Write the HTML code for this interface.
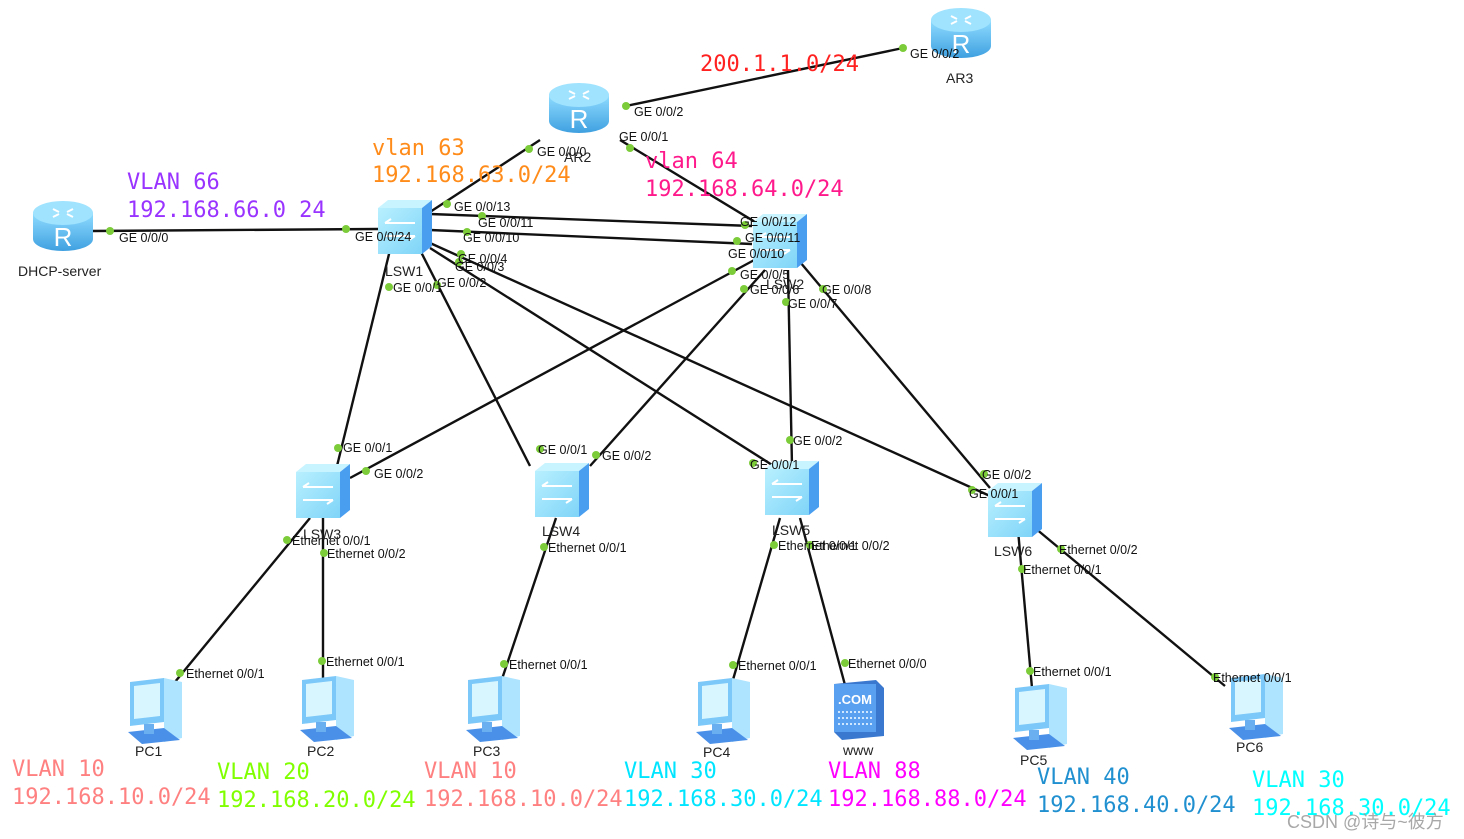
<!DOCTYPE html>
<html><head><meta charset="utf-8"><style>
html,body{margin:0;padding:0;background:#fff;width:1464px;height:839px;overflow:hidden}
svg{display:block}
.p{font-family:"Liberation Sans",sans-serif;font-size:12.5px;fill:#111}
.n{font-family:"Liberation Sans",sans-serif;font-size:14px;fill:#222}
.m{font-family:"DejaVu Sans Mono","Liberation Mono",monospace;font-size:22px}
line{stroke:#111;stroke-width:2.4}
.d{fill:#7ccc3a}
</style></head><body>
<svg width="1464" height="839" viewBox="0 0 1464 839">
<defs>
<linearGradient id="rg" x1="0" x2="0" y1="0" y2="1"><stop offset="0" stop-color="#8fdcff"/><stop offset="1" stop-color="#3fa0e0"/></linearGradient>
<linearGradient id="sg" x1="0" x2="1" y1="0" y2="1"><stop offset="0" stop-color="#b8f0ff"/><stop offset="1" stop-color="#7fd4f8"/></linearGradient>
<g id="rt">
<path d="M-30,-14 L-30,12 A30,12 0 0 0 30,12 L30,-14 Z" fill="url(#rg)"/>
<ellipse cx="0" cy="-14" rx="30" ry="12" fill="#9fe3ff"/>
<path d="M-10,-18 l6,3 M10,-18 l-6,3 M-10,-10 l6,-3 M10,-10 l-6,-3" stroke="#fff" stroke-width="2"/>
<text x="0" y="19" text-anchor="middle" font-family="Liberation Sans,sans-serif" font-size="26" fill="#fff">R</text>
</g>
<g id="sw">
<path d="M-27,-20 L-17,-28 L27,-28 L17,-20 Z" fill="#c8f4ff"/>
<rect x="-27" y="-20" width="44" height="46" fill="url(#sg)"/>
<path d="M17,-20 L27,-28 L27,18 L17,26 Z" fill="#4a9ef0"/>
<path d="M-20,-5 h30 M-20,-5 l6,-4 M-20,8 h30 M10,8 l-6,4" stroke="#fff" stroke-width="2" fill="none"/>
</g>
<g id="pc">
<path d="M-20,-28 L14,-32 L14,12 L-20,16 Z" fill="#7cc8f8"/>
<path d="M-16,-24 L10,-27 L10,6 L-16,9 Z" fill="#d8f6ff"/>
<path d="M14,-32 L32,-28 L32,28 L14,32 Z" fill="#aee4ff"/>
<path d="M-22,22 L14,18 L30,30 L-8,34 Z" fill="#4a90e8"/>
<rect x="-6" y="14" width="10" height="10" fill="#6ab0f0"/>
</g>
</defs>

<line x1="903" y1="48" x2="626" y2="106"/>
<line x1="540" y1="140" x2="430" y2="212"/>
<line x1="620" y1="140" x2="765" y2="228"/>
<line x1="92" y1="231" x2="378" y2="229"/>
<line x1="430" y1="214" x2="752" y2="226"/>
<line x1="430" y1="230" x2="752" y2="244"/>
<line x1="390" y1="250" x2="337" y2="466"/>
<line x1="420" y1="250" x2="530" y2="466"/>
<line x1="430" y1="248" x2="780" y2="470"/>
<line x1="430" y1="243" x2="990" y2="496"/>
<line x1="758" y1="258" x2="350" y2="478"/>
<line x1="765" y1="270" x2="590" y2="466"/>
<line x1="788" y1="270" x2="792" y2="466"/>
<line x1="800" y1="262" x2="990" y2="488"/>
<line x1="310" y1="518" x2="170" y2="688"/>
<line x1="323" y1="518" x2="323" y2="685"/>
<line x1="556" y1="518" x2="500" y2="685"/>
<line x1="780" y1="518" x2="730" y2="690"/>
<line x1="800" y1="518" x2="845" y2="685"/>
<line x1="1018" y1="530" x2="1032" y2="688"/>
<line x1="1035" y1="528" x2="1225" y2="686"/>

<use href="#rt" x="961" y="34"/>
<use href="#rt" x="579" y="109"/>
<use href="#rt" x="63" y="227"/>
<use href="#sw" x="405" y="228"/>
<use href="#sw" x="780" y="242"/>
<use href="#sw" x="323" y="492"/>
<use href="#sw" x="562" y="491"/>
<use href="#sw" x="792" y="489"/>
<use href="#sw" x="1015" y="511"/>
<use href="#pc" x="150" y="710"/>
<use href="#pc" x="322" y="708"/>
<use href="#pc" x="488" y="708"/>
<use href="#pc" x="718" y="710"/>
<use href="#pc" x="1035" y="716"/>
<use href="#pc" x="1251" y="706"/>
<g>
<path d="M834,684 L876,680 L884,688 L884,736 L842,740 L834,732 Z" fill="#3a78d0"/>
<rect x="834" y="684" width="42" height="48" fill="#5aa0f0"/>
<text x="855" y="704" text-anchor="middle" font-family="Liberation Sans,sans-serif" font-size="13" font-weight="bold" fill="#fff">.COM</text>
<path d="M838,712 h34 M838,718 h34 M838,724 h34" stroke="#cfe8ff" stroke-width="2" stroke-dasharray="2 2"/>
</g>

<g class="d">
<circle cx="903" cy="48" r="4"/><circle cx="626" cy="106" r="4"/><circle cx="630" cy="148" r="4"/><circle cx="529" cy="149" r="4"/>
<circle cx="447" cy="204" r="4"/><circle cx="110" cy="231" r="4"/><circle cx="346" cy="229" r="4"/>
<circle cx="482" cy="216" r="4"/><circle cx="467" cy="232" r="4"/><circle cx="461" cy="254" r="4"/><circle cx="459" cy="262" r="4"/>
<circle cx="389" cy="287" r="4"/><circle cx="437" cy="285" r="4"/>
<circle cx="745" cy="225" r="4"/><circle cx="737" cy="241" r="4"/><circle cx="732" cy="271" r="4"/><circle cx="744" cy="289" r="4"/>
<circle cx="786" cy="302" r="4"/><circle cx="823" cy="289" r="4"/>
<circle cx="338" cy="448" r="4"/><circle cx="366" cy="471" r="4"/><circle cx="540" cy="449" r="4"/><circle cx="596" cy="455" r="4"/>
<circle cx="790" cy="440" r="4"/><circle cx="753" cy="463" r="4"/><circle cx="984" cy="474" r="4"/><circle cx="972" cy="490" r="4"/>
<circle cx="287" cy="540" r="4"/><circle cx="324" cy="553" r="4"/><circle cx="544" cy="547" r="4"/><circle cx="774" cy="545" r="4"/><circle cx="810" cy="545" r="4"/>
<circle cx="1061" cy="549" r="4"/><circle cx="1022" cy="569" r="4"/>
<circle cx="180" cy="673" r="4"/><circle cx="322" cy="661" r="4"/><circle cx="504" cy="664" r="4"/><circle cx="733" cy="665" r="4"/><circle cx="845" cy="663" r="4"/>
<circle cx="1030" cy="671" r="4"/><circle cx="1215" cy="677" r="4"/>
</g>

<g class="p">
<text x="910" y="58">GE 0/0/2</text><text x="634" y="116">GE 0/0/2</text><text x="619" y="141">GE 0/0/1</text><text x="537" y="156">GE 0/0/0</text>
<text x="119" y="242">GE 0/0/0</text><text x="355" y="241">GE 0/0/24</text>
<text x="454" y="211">GE 0/0/13</text><text x="478" y="227">GE 0/0/11</text><text x="463" y="242">GE 0/0/10</text>
<text x="458" y="263">GE 0/0/4</text><text x="455" y="271">GE 0/0/3</text><text x="393" y="292">GE 0/0/1</text><text x="437" y="287">GE 0/0/2</text>
<text x="740" y="226">GE 0/0/12</text><text x="745" y="242">GE 0/0/11</text><text x="728" y="258">GE 0/0/10</text>
<text x="740" y="279">GE 0/0/5</text><text x="750" y="294">GE 0/0/6</text><text x="788" y="308">GE 0/0/7</text><text x="822" y="294">GE 0/0/8</text>
<text x="343" y="452">GE 0/0/1</text><text x="374" y="478">GE 0/0/2</text><text x="538" y="454">GE 0/0/1</text><text x="602" y="460">GE 0/0/2</text>
<text x="793" y="445">GE 0/0/2</text><text x="750" y="469">GE 0/0/1</text><text x="982" y="479">GE 0/0/2</text><text x="969" y="498">GE 0/0/1</text>
<text x="292" y="545">Ethernet 0/0/1</text><text x="327" y="558">Ethernet 0/0/2</text><text x="548" y="552">Ethernet 0/0/1</text>
<text x="778" y="550">Ethernet 0/0/1</text><text x="811" y="550">Ethernet 0/0/2</text>
<text x="1059" y="554">Ethernet 0/0/2</text><text x="1023" y="574">Ethernet 0/0/1</text>
<text x="186" y="678">Ethernet 0/0/1</text><text x="326" y="666">Ethernet 0/0/1</text><text x="509" y="669">Ethernet 0/0/1</text>
<text x="738" y="670">Ethernet 0/0/1</text><text x="848" y="668">Ethernet 0/0/0</text>
<text x="1033" y="676">Ethernet 0/0/1</text><text x="1213" y="682">Ethernet 0/0/1</text>
</g>

<g class="n">
<text x="946" y="83">AR3</text><text x="564" y="162">AR2</text><text x="18" y="276">DHCP-server</text>
<text x="385" y="276">LSW1</text><text x="766" y="289">LSW2</text><text x="303" y="539">LSW3</text><text x="542" y="536">LSW4</text>
<text x="772" y="535">LSW5</text><text x="994" y="556">LSW6</text>
<text x="135" y="756">PC1</text><text x="307" y="756">PC2</text><text x="473" y="756">PC3</text><text x="703" y="757">PC4</text>
<text x="843" y="755">www</text><text x="1020" y="765">PC5</text><text x="1236" y="752">PC6</text>
</g>

<g class="m">
<text x="700" y="71" fill="#ff2020">200.1.1.0/24</text>
<text x="372" y="155" fill="#ff8c1a">vlan 63</text><text x="372" y="182" fill="#ff8c1a">192.168.63.0/24</text>
<text x="645" y="168" fill="#ff1a8c">vlan 64</text><text x="645" y="196" fill="#ff1a8c">192.168.64.0/24</text>
<text x="127" y="189" fill="#9933ff">VLAN 66</text><text x="127" y="217" fill="#9933ff">192.168.66.0 24</text>
<text x="12" y="776" fill="#ff8080">VLAN 10</text><text x="12" y="804" fill="#ff8080">192.168.10.0/24</text>
<text x="217" y="779" fill="#80ff00">VLAN 20</text><text x="217" y="807" fill="#80ff00">192.168.20.0/24</text>
<text x="424" y="778" fill="#ff8080">VLAN 10</text><text x="424" y="806" fill="#ff8080">192.168.10.0/24</text>
<text x="624" y="778" fill="#00e5ff">VLAN 30</text><text x="624" y="806" fill="#00e5ff">192.168.30.0/24</text>
<text x="828" y="778" fill="#ff00ff">VLAN 88</text><text x="828" y="806" fill="#ff00ff">192.168.88.0/24</text>
<text x="1037" y="784" fill="#2090d0">VLAN 40</text><text x="1037" y="812" fill="#2090d0">192.168.40.0/24</text>
<text x="1252" y="787" fill="#00ffff">VLAN 30</text><text x="1252" y="815" fill="#00ffff">192.168.30.0/24</text>
</g>
<text x="1287" y="828" font-family="Liberation Sans,'Noto Sans CJK SC',sans-serif" font-size="18" fill="#999" opacity="0.85">CSDN @诗与~彼方</text>
</svg>
</body></html>
